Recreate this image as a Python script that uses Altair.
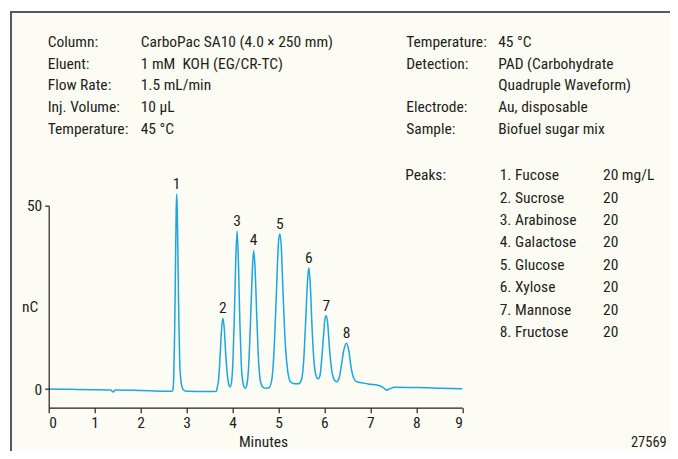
import altair as alt
import pandas as pd

# ---- chromatogram trace (time in minutes, response in nC) ----
times = [0.0, 0.5, 1.0, 1.35, 1.4, 1.45, 2.0, 2.5, 2.68,
         2.70, 2.72, 2.74, 2.76, 2.775, 2.785, 2.795, 2.81, 2.83, 2.85, 2.88, 2.93,
         3.0, 3.5, 3.65,
         3.66, 3.70, 3.73, 3.76, 3.79, 3.82, 3.85, 3.89, 3.93, 3.95,
         3.98, 4.01, 4.04, 4.07, 4.10, 4.13, 4.16, 4.19, 4.23, 4.28,
         4.31, 4.35, 4.39, 4.43, 4.46, 4.49, 4.53, 4.57, 4.62, 4.68, 4.73,
         4.80, 4.86, 4.91, 4.96, 5.00, 5.03, 5.06, 5.10, 5.15, 5.20, 5.26, 5.35, 5.44,
         5.50, 5.55, 5.59, 5.63, 5.66, 5.69, 5.73, 5.77, 5.82, 5.86,
         5.90, 5.94, 5.98, 6.01, 6.04, 6.07, 6.11, 6.16, 6.22, 6.27,
         6.32, 6.37, 6.42, 6.48, 6.53, 6.58, 6.63, 6.70, 6.85, 7.0, 7.2,
         7.28, 7.35, 7.43, 7.52, 8.0, 8.5, 9.0]
signal = [0.0, -0.1, -0.2, -0.3, -0.8, -0.3, -0.4, -0.6, -0.6,
          -0.4, 3.0, 15.0, 35.0, 49.0, 53.2, 50.0, 38.0, 20.0, 8.0, 2.0, -0.2,
          -0.6, -0.7, -0.6,
          0.0, 3.0, 9.0, 16.0, 19.3, 16.5, 10.0, 3.5, 0.8, 0.6,
          2.0, 8.0, 20.0, 35.0, 43.1, 34.0, 18.0, 7.0, 1.5, 0.2,
          1.0, 6.0, 18.0, 32.0, 37.8, 33.0, 19.0, 7.0, 1.5, 0.3, 0.2,
          0.4, 3.0, 12.0, 28.0, 40.0, 42.3, 39.0, 26.0, 12.0, 5.0, 2.0, 1.4, 1.4,
          2.5, 8.0, 18.0, 29.0, 33.1, 29.0, 17.0, 8.0, 3.5, 2.8,
          3.5, 8.0, 14.5, 19.0, 20.0, 18.0, 11.0, 5.0, 2.4, 2.0,
          3.0, 6.5, 10.5, 12.5, 10.5, 6.0, 3.2, 2.0, 1.6, 1.3, 0.9,
          0.4, -0.3, 0.1, 0.5, 0.4, 0.2, 0.1]

# ---- peak labels ----
peak_numbers = ["1", "2", "3", "4", "5", "6", "7", "8"]
peak_times = [2.785, 3.79, 4.10, 4.46, 5.03, 5.66, 6.04, 6.48]
peak_heights = [53.2, 19.3, 43.1, 37.8, 42.3, 33.1, 20.0, 12.5]

# ---- text blocks ----
left_labels = ["Column:", "Eluent:", "Flow Rate:", "Inj. Volume:", "Temperature:"]
left_values = ["CarboPac SA10 (4.0 × 250 mm)", "1 mM\u00a0 KOH (EG/CR-TC)", "1.5 mL/min",
               "10 µL", "45 °C"]
right_labels_top = ["Temperature:", "Detection:"]
right_labels_bottom = ["Electrode:", "Sample:"]
right_values = ["45 °C", "PAD (Carbohydrate", "Quadruple Waveform)", "Au, disposable",
                "Biofuel sugar mix"]
peak_names = ["1. Fucose", "2. Sucrose", "3. Arabinose", "4. Galactose", "5. Glucose",
              "6. Xylose", "7. Mannose", "8. Fructose"]
peak_amounts = ["20 mg/L", "20", "20", "20", "20", "20", "20", "20"]
x_ticks = [0, 1, 2, 3, 4, 5, 6, 7, 8, 9]
y_ticks = [0, 50]
figure_id = "27569"

FONT = "Liberation Sans Narrow, Roboto Condensed, Roboto, sans-serif"
FS = 15.5
TXT = "#231f20"
BLUE = "#1ba6e4"

trace = pd.DataFrame({"t": times, "v": signal})
peaks = pd.DataFrame({"t": peak_times, "v": peak_heights, "n": peak_numbers})

W, H = 413.6, 202.0
x_scale = alt.Scale(domain=[0, 9], nice=False, zero=False)
y_scale = alt.Scale(domain=[-5.1, 50], nice=False, zero=False)

one = pd.DataFrame({"k": [0]})
# background panel and frame
panel = alt.Chart(one).mark_rect(color="#fcfbf4").encode(
    x=alt.value(-37.7), x2=alt.value(640), y=alt.value(-193.7), y2=alt.value(260))
frame_top = alt.Chart(one).mark_rule(color="#58595b", strokeWidth=2).encode(
    x=alt.value(-38.7), x2=alt.value(640), y=alt.value(-193.7))
frame_left = alt.Chart(one).mark_rule(color="#58595b", strokeWidth=2).encode(
    x=alt.value(-37.7), y=alt.value(-194.7), y2=alt.value(260))

line = alt.Chart(trace).mark_line(color=BLUE, strokeWidth=1.5, interpolate="monotone").encode(
    x=alt.X("t:Q", scale=x_scale,
            axis=alt.Axis(title="Minutes", values=x_ticks, format="d", grid=False,
                          tickSize=5, labelPadding=3, titleX=214.3, titleY=34,
                          titleBaseline="middle", titleAlign="center", zindex=2)),
    y=alt.Y("v:Q", scale=y_scale,
            axis=alt.Axis(title="nC", values=y_ticks, grid=False, tickSize=4,
                          labelPadding=3, titleAngle=0, titleX=-19, titleY=101,
                          titleBaseline="middle", titleAlign="center", zindex=2)),
)

labels = alt.Chart(peaks).mark_text(font=FONT, fontSize=FS, color=TXT, dy=-5,
                                    baseline="alphabetic", align="center").encode(
    x=alt.X("t:Q", scale=x_scale), y=alt.Y("v:Q", scale=y_scale), text="n:N")

def block(lines, x, y, lh, align="left", size=FS):
    return alt.Chart(one).mark_text(
        text=lines, font=FONT, fontSize=size, color=TXT, align=align,
        baseline="alphabetic", lineHeight=lh).encode(x=alt.value(x), y=alt.value(y))

LH = 21.6
TOP = -158.5
texts = [
    block(left_labels, -1, TOP, LH),
    block(left_values, 92, TOP, LH),
    block(right_labels_top, 357.5, TOP, LH),
    block(right_labels_bottom, 357.5, TOP + 3 * LH, LH),
    block(right_values, 449.5, TOP, LH),
    block(["Peaks:"], 356.5, -25.5, 22.4),
    block(peak_names, 451, -25.5, 22.4),
    block(peak_amounts, 554.3, -25.5, 22.4),
    block([figure_id], 618, 241.5, 18, align="right", size=14.5),
]

chart = alt.layer(panel, frame_top, frame_left, line, labels, *texts).properties(
    width=W, height=H, autosize="none",
    padding={"left": 40.7, "top": 197.7, "right": 207.7, "bottom": 43.3},
    background="#ffffff",
).configure_view(strokeWidth=0).configure_axis(
    domainColor=TXT, tickColor=TXT, labelColor=TXT, titleColor=TXT,
    labelFont=FONT, titleFont=FONT, labelFontSize=FS, titleFontSize=FS,
    titleFontWeight="normal", domainWidth=1.2, tickWidth=1.2,
)

chart.save("out.html", embed_options={"renderer": "svg", "actions": False})
